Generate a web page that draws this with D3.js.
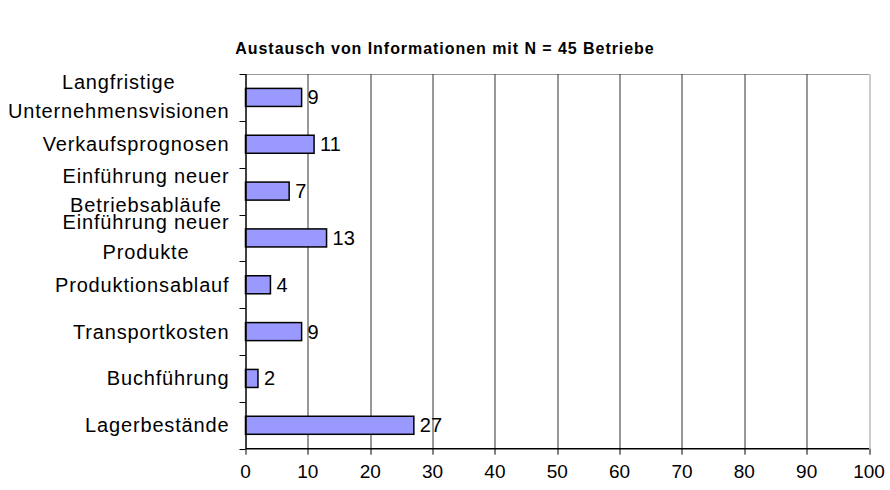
<!DOCTYPE html>
<html>
<head>
<meta charset="utf-8">
<script src="https://cdn.jsdelivr.net/npm/d3@7/dist/d3.min.js"></script>
<style>
  body { margin: 0; background: #fff; }
  text { font-family: "Liberation Sans", Arial, sans-serif; fill: #000; }
</style>
</head>
<body>
<svg id="chart" width="890" height="490"></svg>
<script>
// categories top to bottom, each label split in lines
const categories = [
  ['Langfristige', 'Unternehmensvisionen'],
  ['Verkaufsprognosen'],
  ['Einführung neuer', 'Betriebsabläufe'],
  ['Einführung neuer', 'Produkte'],
  ['Produktionsablauf'],
  ['Transportkosten'],
  ['Buchführung'],
  ['Lagerbestände'],
];
const values = [9, 11, 7, 13, 4, 9, 2, 27];
const xTicks = [0, 10, 20, 30, 40, 50, 60, 70, 80, 90, 100];
const title = 'Austausch von Informationen mit N = 45 Betriebe';

const margin = { top: 74, right: 21, bottom: 41.3, left: 245.5 };
const width = 890;
const height = 490;
const innerW = width - margin.left - margin.right;
const innerH = height - margin.top - margin.bottom;

const svg = d3.select('#chart');

svg.append('text')
  .attr('x', 445)
  .attr('y', 54)
  .attr('text-anchor', 'middle')
  .style('font-size', '16px')
  .style('font-weight', 'bold')
  .style('letter-spacing', '0.95px')
  .text(title);

const g = svg.append('g')
  .attr('transform', `translate(${margin.left},${margin.top})`);

const x = d3.scaleLinear().domain([0, 100]).range([0, innerW]);
const y = d3.scaleBand()
  .domain(d3.range(categories.length))
  .range([0, innerH])
  .paddingInner(0.615)
  .paddingOuter(0.3075);
const band = d3.scaleBand().domain(d3.range(categories.length)).range([0, innerH]);

// plot border (grey top)
g.append('line')
  .attr('x1', 0).attr('x2', innerW).attr('y1', 0.5).attr('y2', 0.5)
  .attr('stroke', '#999').attr('stroke-width', 1);

// vertical gridlines
g.selectAll('line.grid')
  .data(xTicks.filter(d => d > 0))
  .enter().append('line')
  .attr('class', 'grid')
  .attr('x1', d => Math.round(x(d)) + 0.5)
  .attr('x2', d => Math.round(x(d)) + 0.5)
  .attr('y1', 0)
  .attr('y2', innerH)
  .attr('stroke', d => (d === 100 ? '#999' : '#333'))
  .attr('stroke-width', 1);

// bars
g.selectAll('rect.bar')
  .data(values)
  .enter().append('rect')
  .attr('class', 'bar')
  .attr('x', 0)
  .attr('y', (d, i) => y(i))
  .attr('width', d => x(d))
  .attr('height', y.bandwidth())
  .attr('fill', '#9999FF')
  .attr('stroke', '#000')
  .attr('stroke-width', 1.5);

// value labels
g.selectAll('text.val')
  .data(values)
  .enter().append('text')
  .attr('class', 'val')
  .attr('x', d => x(d) + 6)
  .attr('y', (d, i) => band(i) + band.bandwidth() / 2 + 7)
  .style('font-size', '20px')
  .text(d => d);

// y axis
const yAxis = g.append('g');
yAxis.append('line')
  .attr('x1', 0.5).attr('x2', 0.5).attr('y1', 0).attr('y2', innerH)
  .attr('stroke', '#000').attr('stroke-width', 1.5);
yAxis.selectAll('line.tick')
  .data(d3.range(categories.length + 1))
  .enter().append('line')
  .attr('class', 'tick')
  .attr('x1', -6).attr('x2', 0)
  .attr('y1', d => Math.round(d * band.step()) + 0.5)
  .attr('y2', d => Math.round(d * band.step()) + 0.5)
  .attr('stroke', '#000');

// category labels: right-aligned block, lines centred inside it
categories.forEach((lines, i) => {
  const cy = band(i) + band.bandwidth() / 2;
  const t = g.append('text')
    .attr('text-anchor', 'middle')
    .style('font-size', '20px')
    .style('letter-spacing', '0.85px');
  lines.forEach((l, j) => {
    t.append('tspan')
      .attr('x', -16)
      .attr('y', lines.length === 1 ? cy + 7 : cy + (j === 0 ? -8.5 : 21))
      .text(l);
  });
  // shift block so its widest line ends at the label edge
  const bb = t.node().getBBox();
  t.selectAll('tspan').attr('x', -16 - bb.width / 2);
});

// x axis
const xAxis = g.append('g').attr('transform', `translate(0,${innerH})`);
xAxis.append('line')
  .attr('x1', 0).attr('x2', innerW).attr('y1', 0).attr('y2', 0)
  .attr('stroke', '#000').attr('stroke-width', 1.5);
xAxis.selectAll('line.tick')
  .data(xTicks)
  .enter().append('line')
  .attr('class', 'tick')
  .attr('x1', d => Math.round(x(d)) + 0.5)
  .attr('x2', d => Math.round(x(d)) + 0.5)
  .attr('y1', 0).attr('y2', 6)
  .attr('stroke', '#000');
xAxis.selectAll('text.tl')
  .data(xTicks)
  .enter().append('text')
  .attr('class', 'tl')
  .attr('x', d => x(d))
  .attr('y', 29)
  .attr('text-anchor', 'middle')
  .style('font-size', '19px')
  .text(d => d);
</script>
</body>
</html>
